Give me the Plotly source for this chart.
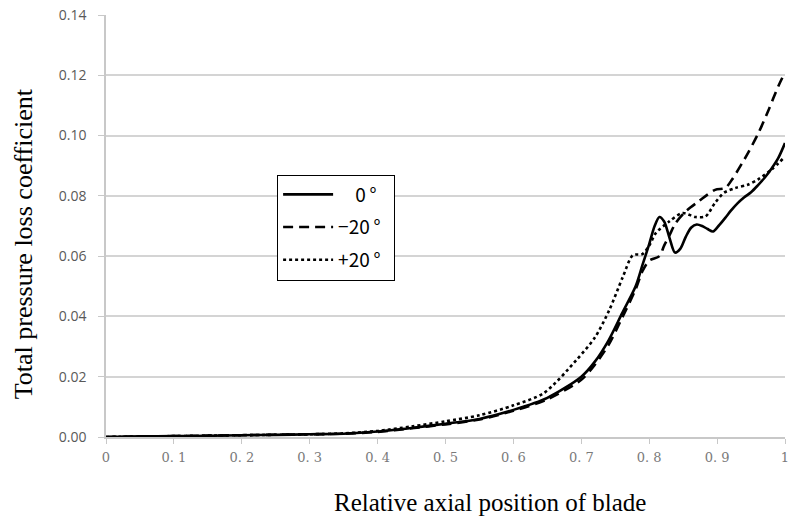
import plotly.graph_objects as go

# ---- data ----
x_0 = [0, 0.05, 0.1, 0.15, 0.2, 0.25, 0.3, 0.35, 0.4, 0.45, 0.5, 0.55, 0.6, 0.65, 0.7,
       0.72, 0.74, 0.76, 0.78, 0.79, 0.80, 0.808, 0.815, 0.822, 0.83, 0.838, 0.846, 0.854,
       0.862, 0.87, 0.878, 0.886, 0.894, 0.902, 0.912, 0.92, 0.93, 0.94, 0.95, 0.96, 0.97,
       0.98, 0.99, 1.0]
y_0 = [0, 0.0002, 0.0003, 0.0004, 0.0006, 0.0007, 0.0009, 0.0011, 0.0018, 0.0030, 0.0044,
       0.0060, 0.0090, 0.0130, 0.0200, 0.0250, 0.0320, 0.0410, 0.0500, 0.0570, 0.0640,
       0.0700, 0.0730, 0.0715, 0.0660, 0.0612, 0.0625, 0.0665, 0.0695, 0.0705, 0.0700,
       0.0690, 0.0682, 0.0700, 0.0727, 0.0750, 0.0775, 0.0795, 0.0812, 0.0835, 0.0860,
       0.0890, 0.0925, 0.0975]

x_m20 = [0, 0.1, 0.2, 0.3, 0.35, 0.4, 0.45, 0.5, 0.55, 0.6, 0.65, 0.7, 0.72, 0.74, 0.76,
         0.78, 0.79, 0.80, 0.815, 0.822, 0.83, 0.839, 0.854, 0.873, 0.897, 0.912, 0.922,
         0.937, 0.945, 0.961, 0.976, 0.99, 1.0]
y_m20 = [0, 0.0003, 0.0006, 0.0009, 0.0011, 0.0017, 0.0029, 0.0042, 0.0058, 0.0087, 0.0125,
         0.0190, 0.0240, 0.0305, 0.0395, 0.0490, 0.0550, 0.0585, 0.0600, 0.0635, 0.0670,
         0.0710, 0.0749, 0.0782, 0.0820, 0.0826, 0.0854, 0.0909, 0.0940, 0.1009, 0.1086,
         0.1163, 0.1210]

x_p20 = [0, 0.1, 0.2, 0.3, 0.35, 0.4, 0.45, 0.5, 0.55, 0.6, 0.645, 0.693, 0.72, 0.741,
         0.761, 0.776, 0.79, 0.80, 0.81, 0.829, 0.849, 0.868, 0.883, 0.897, 0.91, 0.927,
         0.945, 0.96, 0.98, 1.0]
y_p20 = [0, 0.0003, 0.0006, 0.0009, 0.0012, 0.0020, 0.0035, 0.0052, 0.0072, 0.0105, 0.0146,
         0.0256, 0.0330, 0.0420, 0.0530, 0.0603, 0.0607, 0.0635, 0.0677, 0.0714, 0.0743,
         0.0730, 0.0732, 0.0777, 0.0810, 0.0826, 0.0837, 0.0854, 0.0887, 0.0930]

series_names = ["\u00a0\u00a0\u00a0 0\u2009°\u00a0\u00a0", "−20\u2009°\u00a0\u00a0", "+20\u2009°\u00a0\u00a0"]
x_tick_vals = [0, 0.1, 0.2, 0.3, 0.4, 0.5, 0.6, 0.7, 0.8, 0.9, 1.0]
x_tick_text = ["0", "0. 1", "0. 2", "0. 3", "0. 4", "0. 5", "0. 6", "0. 7", "0. 8", "0. 9", "1"]
y_tick_vals = [0, 0.02, 0.04, 0.06, 0.08, 0.10, 0.12, 0.14]
y_tick_text = ["0.00", "0.02", "0.04", "0.06", "0.08", "0.10", "0.12", "0.14"]

fig = go.Figure()
styles = [("solid", 2.6), ("10px,6px", 2.6), ("dot", 2.6)]
for i, (xs, ys) in enumerate([(x_0, y_0), (x_m20, y_m20), (x_p20, y_p20)]):
    fig.add_trace(go.Scatter(
        x=xs, y=ys, mode="lines", name=series_names[i],
        line=dict(color="black", width=styles[i][1], dash=styles[i][0], shape="spline", smoothing=0.8),
        legendgroup=f"g{i}",
    ))

fig.update_layout(
    width=789, height=517,
    margin=dict(l=106, r=4, t=15, b=80),
    paper_bgcolor="white", plot_bgcolor="white",
    showlegend=True,
    legend=dict(
        x=0.252, y=0.622, xanchor="left", yanchor="top",
        bgcolor="white", bordercolor="black", borderwidth=1,
        font=dict(family="Noto Sans CJK JP", size=19, color="black"),
        traceorder="grouped", tracegroupgap=5,
        itemwidth=50,
    ),
    xaxis=dict(
        range=[0, 1.0], tickmode="array", tickvals=x_tick_vals, ticktext=x_tick_text,
        showgrid=False, zeroline=False, automargin=False,
        showline=True, linecolor="#c8c8c8", linewidth=1.5,
        ticks="outside", ticklen=5, tickcolor="#c8c8c8",
        ticklabeloverflow="allow", ticklabelstandoff=3,
        tickfont=dict(family="DejaVu Serif", size=13, color="#7a7a7a"),
    ),
    yaxis=dict(
        range=[0, 0.14], tickmode="array", tickvals=y_tick_vals, ticktext=y_tick_text,
        showgrid=True, gridcolor="#d4d4d4", gridwidth=1.5, zeroline=False, automargin=False,
        showline=True, linecolor="#c8c8c8", linewidth=1.5,
        ticks="outside", ticklen=6, tickcolor="#c8c8c8",
        ticklabelstandoff=9,
        tickfont=dict(family="Open Sans", size=14, color="#595959"),
    ),
    annotations=[
        dict(text="Total pressure loss coefficient", xref="paper", yref="paper",
             x=-0.122, y=0.457, xanchor="center", yanchor="middle", textangle=-90,
             showarrow=False, font=dict(family="Liberation Serif", size=26, color="black")),
        dict(text="Relative axial position of blade", xref="paper", yref="paper",
             x=0.565, y=-0.155, xanchor="center", yanchor="middle",
             showarrow=False, font=dict(family="Liberation Serif", size=25, color="black")),
    ],
)

fig.write_html("out.html")
